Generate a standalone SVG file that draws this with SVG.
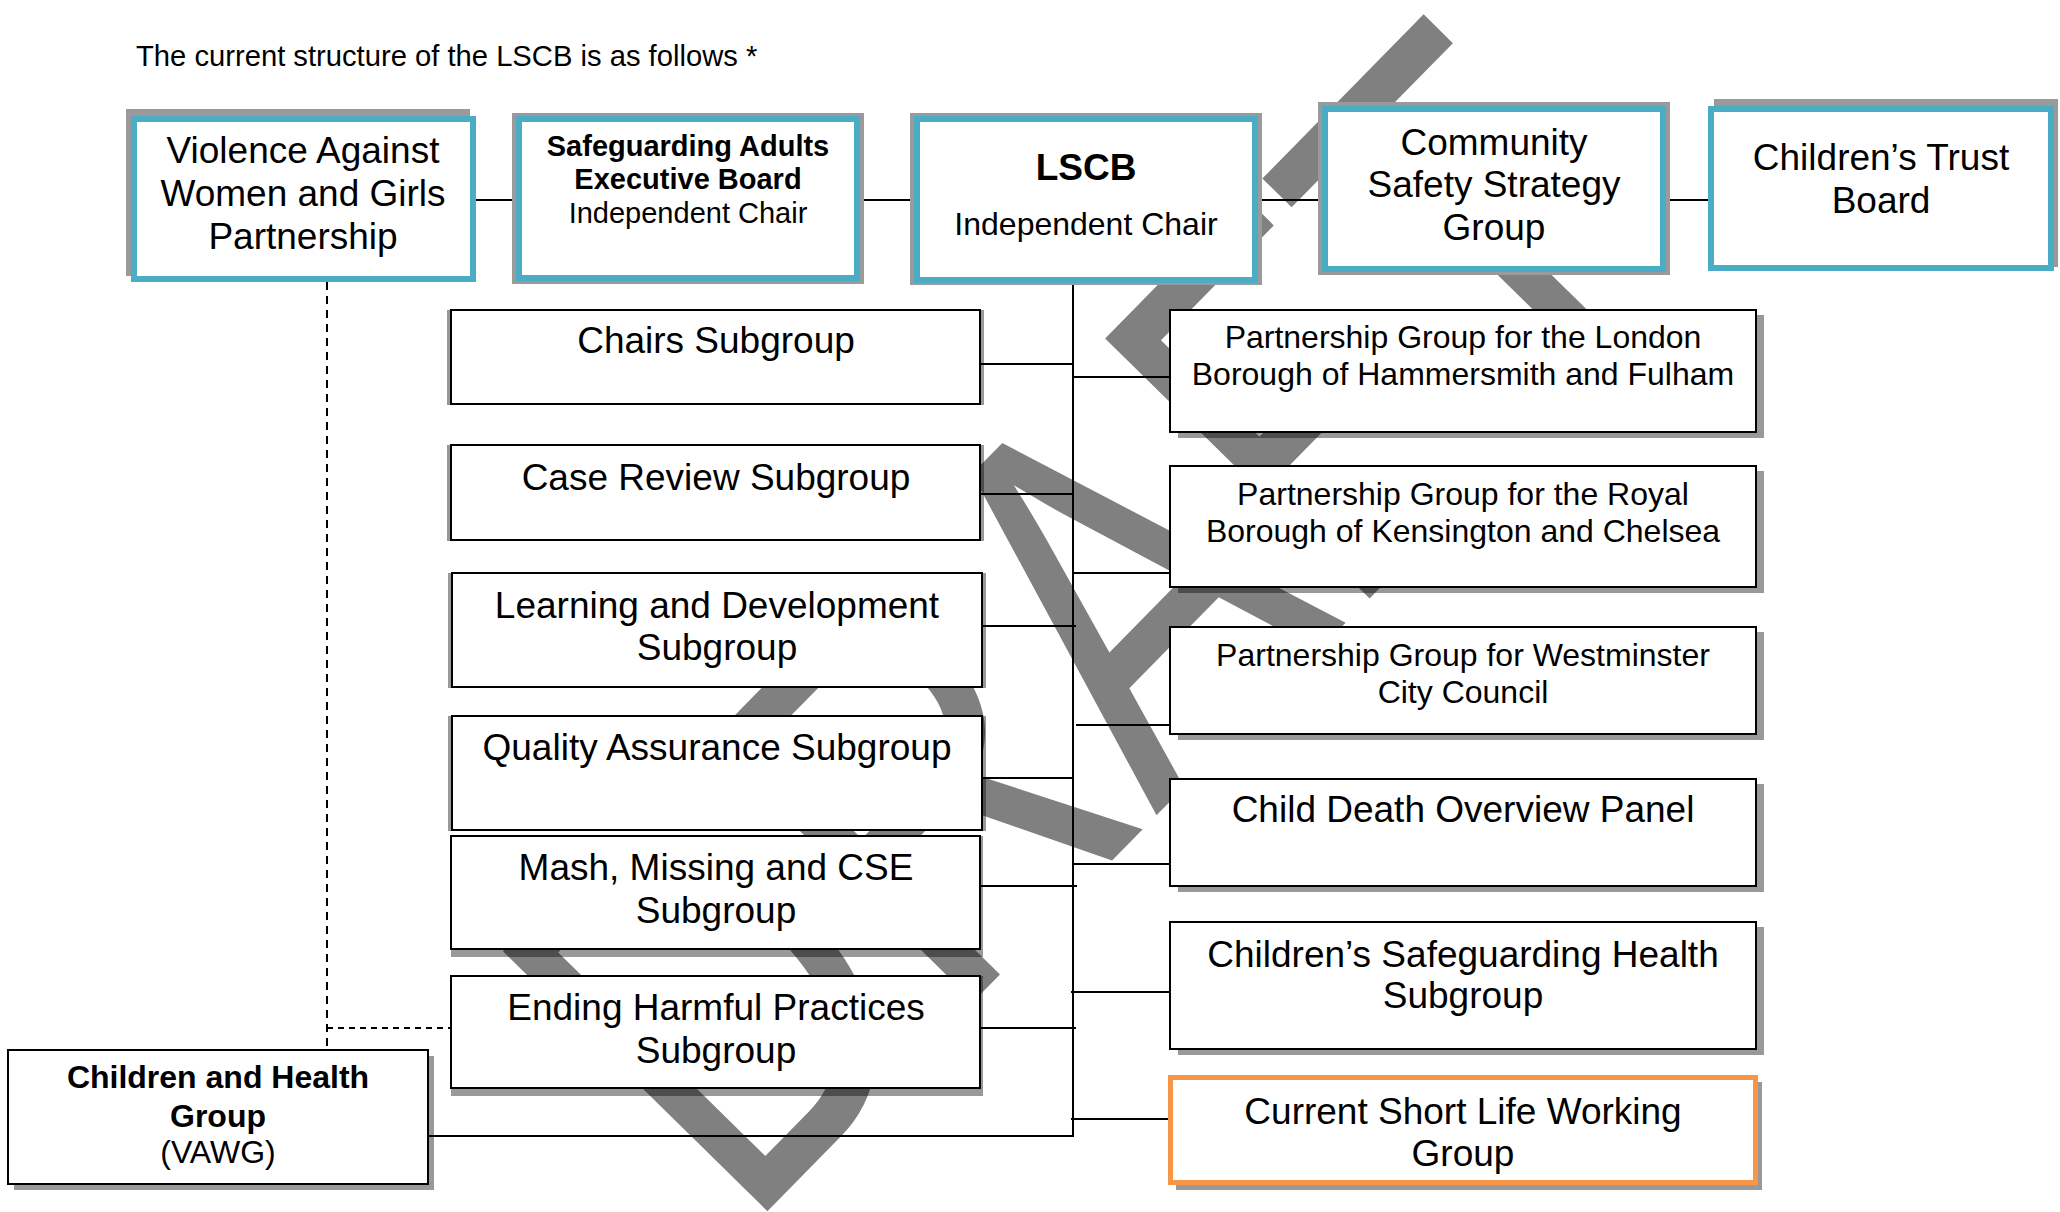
<svg xmlns="http://www.w3.org/2000/svg" width="2060" height="1212" viewBox="0 0 2060 1212">
<style>
text{font-family:"Liberation Sans",Arial,sans-serif;fill:#000;text-anchor:middle}
.t37{font-size:37px}
.t32{font-size:32px}
.t29{font-size:29px}
.b{font-weight:bold}
.box{fill:#fff;stroke:#000;stroke-width:2}
.blue{fill:#fff;stroke:#4BACC6;stroke-width:6}
.orange{fill:#fff;stroke:#F79646;stroke-width:5}
.gr{fill:#9a9a9a}
.sh{fill:#000;fill-opacity:0.4}
.conn line{stroke:#000;stroke-width:2}
.dash{stroke:#000;stroke-width:2;stroke-dasharray:8 6}
.wm{font-family:"Liberation Sans",Arial,sans-serif;font-weight:normal;font-size:539px;fill:#808080;text-anchor:start}
</style>
<rect width="2060" height="1212" fill="#fff"/>
<g id="watermark">
<text class="wm" transform="translate(744,1235) rotate(-45.5) scale(0.755,1)">DRAFT</text>
</g>
<text x="136" y="66" style="text-anchor:start;font-size:29.2px">The current structure of the LSCB is as follows *</text>
<g id="connectors" class="conn">
<line x1="476" y1="200" x2="516" y2="200"/>
<line x1="860" y1="200" x2="914" y2="200"/>
<line x1="1258" y1="200" x2="1322" y2="200"/>
<line x1="1666" y1="200" x2="1708" y2="200"/>
<line x1="1073" y1="283" x2="1073" y2="1137"/>
<line x1="428" y1="1136" x2="1074" y2="1136"/>
<line x1="980" y1="364" x2="1073" y2="364"/>
<line x1="980" y1="494" x2="1073" y2="494"/>
<line x1="982" y1="626" x2="1076" y2="626"/>
<line x1="982" y1="778" x2="1073" y2="778"/>
<line x1="980" y1="886" x2="1077" y2="886"/>
<line x1="980" y1="1028" x2="1076" y2="1028"/>
<line x1="1073" y1="377" x2="1170" y2="377"/>
<line x1="1073" y1="573" x2="1170" y2="573"/>
<line x1="1076" y1="725" x2="1170" y2="725"/>
<line x1="1073" y1="864" x2="1170" y2="864"/>
<line x1="1071" y1="992" x2="1170" y2="992"/>
<line x1="1071" y1="1119" x2="1168" y2="1119"/>
<line class="dash" x1="327" y1="282" x2="327" y2="1050"/>
<line class="dash" x1="327" y1="1028" x2="451" y2="1028" style="stroke-dasharray:6 5"/>
</g>
<g id="vawg">
<rect class="gr" x="126" y="109" width="344" height="167"/>
<rect class="blue" x="134" y="119" width="339" height="160"/>
<text class="t37" x="303" y="163">Violence Against</text>
<text class="t37" x="303" y="206">Women and Girls</text>
<text class="t37" x="303" y="249">Partnership</text>
</g>
<g id="safeguarding-adults">
<rect class="gr" x="512" y="113" width="352" height="171"/>
<rect class="blue" x="519" y="119" width="338" height="159"/>
<text class="t29 b" x="688" y="156">Safeguarding Adults</text>
<text class="t29 b" x="688" y="189">Executive Board</text>
<text class="t29" x="688" y="223">Independent Chair</text>
</g>
<g id="lscb">
<rect class="gr" x="910" y="113" width="352" height="172"/>
<rect class="blue" x="917" y="119" width="338" height="161"/>
<text class="t37 b" x="1086" y="180">LSCB</text>
<text class="t32" x="1086" y="235">Independent Chair</text>
</g>
<g id="community-safety">
<rect class="gr" x="1318" y="102" width="352" height="173"/>
<rect class="blue" x="1325" y="109" width="338" height="160"/>
<text class="t37" x="1494" y="155">Community</text>
<text class="t37" x="1494" y="197">Safety Strategy</text>
<text class="t37" x="1494" y="240">Group</text>
</g>
<g id="childrens-trust">
<rect class="gr" x="1714" y="99" width="344" height="168"/>
<rect class="blue" x="1711" y="109" width="340" height="159"/>
<text class="t37" x="1881" y="170">Children’s Trust</text>
<text class="t37" x="1881" y="213">Board</text>
</g>
<g id="chairs">
<rect class="sh" x="447" y="310" width="537" height="95"/>
<rect class="box" x="451" y="310" width="529" height="94"/>
<text class="t37" x="716" y="353">Chairs Subgroup</text>
</g>
<g id="case-review">
<rect class="sh" x="447" y="445" width="537" height="96"/>
<rect class="box" x="451" y="445" width="529" height="95"/>
<text class="t37" x="716" y="490">Case Review Subgroup</text>
</g>
<g id="learning">
<rect class="sh" x="448" y="573" width="538" height="115"/>
<rect class="box" x="452" y="573" width="530" height="114"/>
<text class="t37" x="717" y="618">Learning and Development</text>
<text class="t37" x="717" y="660">Subgroup</text>
</g>
<g id="quality">
<rect class="sh" x="448" y="716" width="538" height="115"/>
<rect class="box" x="452" y="716" width="530" height="114"/>
<text class="t37" x="717" y="760">Quality Assurance Subgroup</text>
</g>
<g id="mash">
<rect class="sh" x="451" y="836" width="532" height="121"/>
<rect class="box" x="451" y="836" width="529" height="113"/>
<text class="t37" x="716" y="880">Mash, Missing and CSE</text>
<text class="t37" x="716" y="923">Subgroup</text>
</g>
<g id="ending-harmful">
<rect class="sh" x="451" y="976" width="532" height="120"/>
<rect class="box" x="451" y="976" width="529" height="112"/>
<text class="t37" x="716" y="1020">Ending Harmful Practices</text>
<text class="t37" x="716" y="1063">Subgroup</text>
</g>
<g id="children-health">
<rect class="sh" x="14" y="1056" width="420" height="134"/>
<rect class="box" x="8" y="1050" width="420" height="134"/>
<text class="t32 b" x="218" y="1088">Children and Health</text>
<text class="t32 b" x="218" y="1127">Group</text>
<text class="t32" x="218" y="1163">(VAWG)</text>
</g>
<g id="london">
<rect class="sh" x="1178" y="315" width="586" height="123"/>
<rect class="box" x="1170" y="310" width="586" height="122"/>
<text class="t32" x="1463" y="348">Partnership Group for the London</text>
<text class="t32" x="1463" y="385">Borough of Hammersmith and Fulham</text>
</g>
<g id="royal">
<rect class="sh" x="1178" y="471" width="586" height="122"/>
<rect class="box" x="1170" y="466" width="586" height="121"/>
<text class="t32" x="1463" y="505">Partnership Group for the Royal</text>
<text class="t32" x="1463" y="542">Borough of Kensington and Chelsea</text>
</g>
<g id="westminster">
<rect class="sh" x="1178" y="632" width="586" height="108"/>
<rect class="box" x="1170" y="627" width="586" height="107"/>
<text class="t32" x="1463" y="666">Partnership Group for Westminster</text>
<text class="t32" x="1463" y="703">City Council</text>
</g>
<g id="child-death">
<rect class="sh" x="1178" y="784" width="586" height="108"/>
<rect class="box" x="1170" y="779" width="586" height="107"/>
<text class="t37" x="1463" y="822">Child Death Overview Panel</text>
</g>
<g id="childrens-safeguarding-health">
<rect class="sh" x="1178" y="927" width="586" height="128"/>
<rect class="box" x="1170" y="922" width="586" height="127"/>
<text class="t37" x="1463" y="967">Children’s Safeguarding Health</text>
<text class="t37" x="1463" y="1008">Subgroup</text>
</g>
<g id="short-life">
<rect class="sh" x="1176" y="1082" width="586" height="108"/>
<rect class="orange" x="1170.5" y="1077.5" width="585" height="105"/>
<text class="t37" x="1463" y="1124">Current Short Life Working</text>
<text class="t37" x="1463" y="1166">Group</text>
</g>
</svg>
